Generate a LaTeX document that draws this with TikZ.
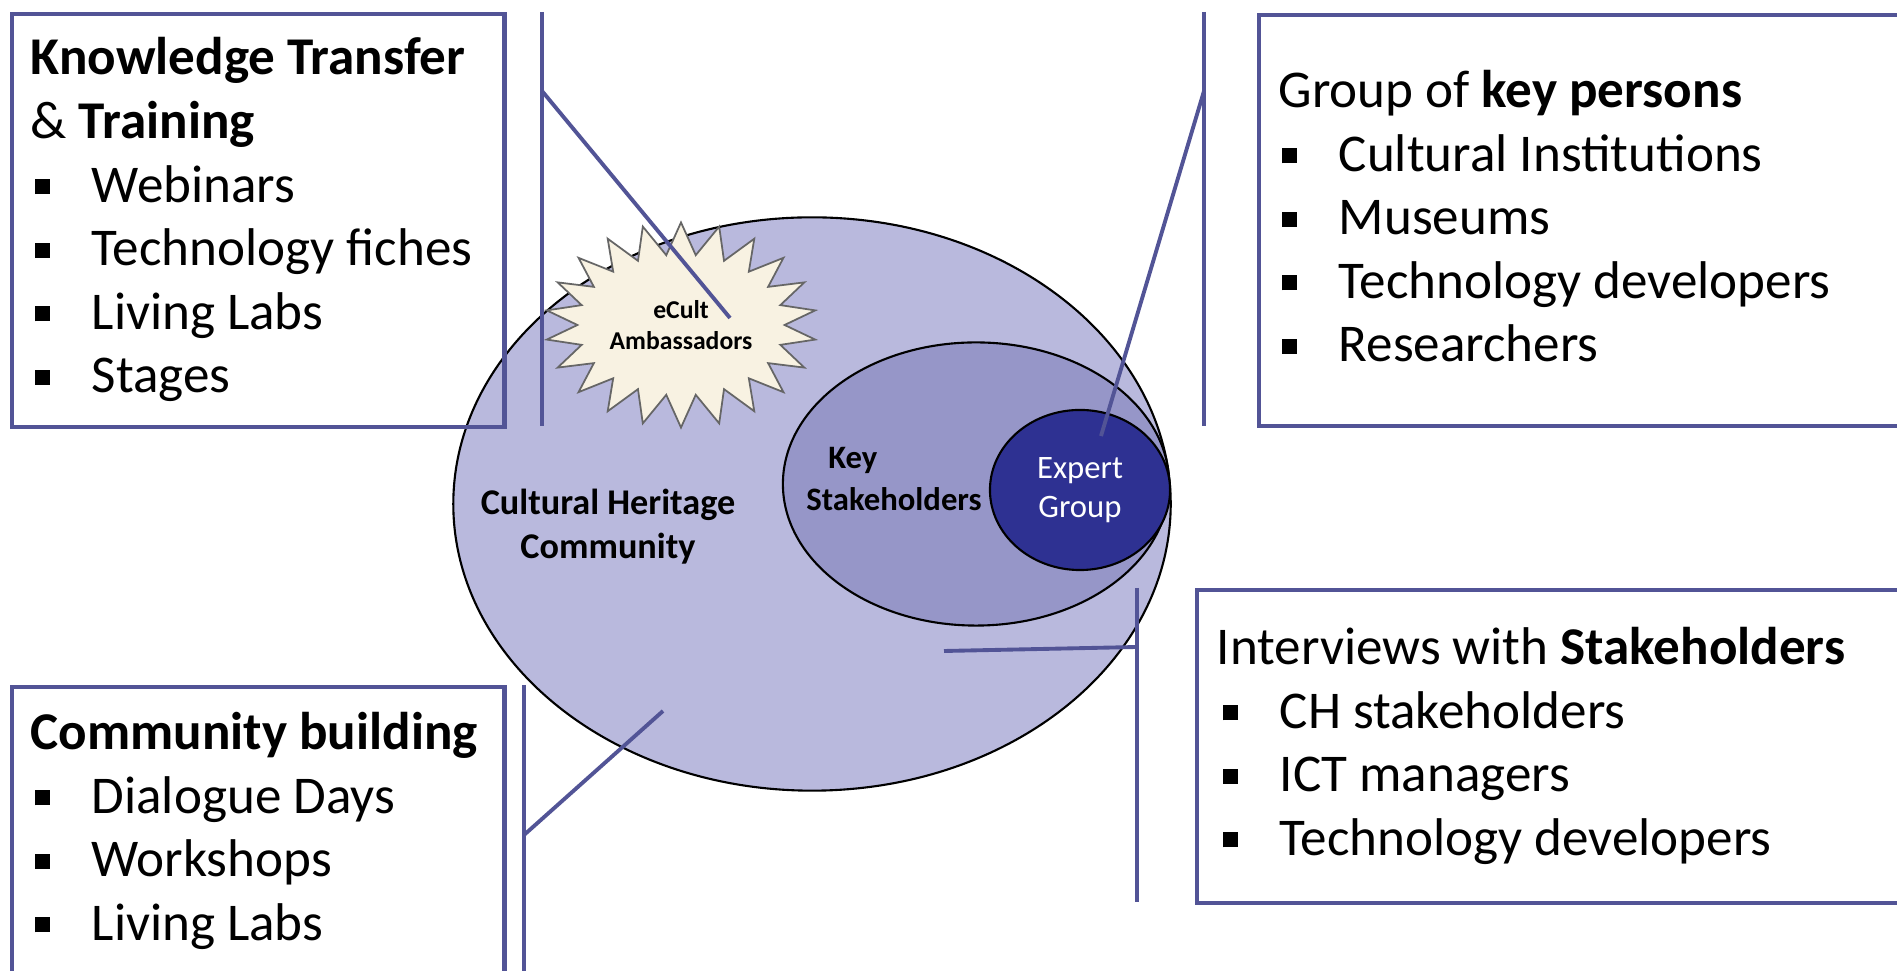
\documentclass[tikz,border=0pt]{standalone}
\usepackage{fontspec}
\setmainfont{Carlito}
\usetikzlibrary{shapes.geometric,shapes.symbols}
\definecolor{frame}{RGB}{82,84,150}
\definecolor{community}{RGB}{185,185,221}
\definecolor{keyholders}{RGB}{150,150,200}
\definecolor{experts}{RGB}{46,49,146}
\definecolor{ambassador}{RGB}{248,242,226}
\tikzset{%
    panel/.style={draw=frame, line width=1.2pt, anchor=north west, inner sep=0pt},
    lead/.style={draw=frame, line width=1.1pt},
    blob/.style={ellipse, draw=black, line width=0.6pt, inner sep=0pt},
    big/.style={font=\fontsize{15.1}{18}\selectfont, anchor=base west, inner sep=0pt},
    tag/.style={font=\fontsize{10.3}{12.5}\selectfont\bfseries, align=center, inner sep=0pt}
}
\newcommand{\sqbullet}{\makebox[0.57cm][l]{\rule[0.08cm]{0.15cm}{0.15cm}}}

\begin{document}
\begin{tikzpicture}[x=0.01cm, y=-0.01cm]
\useasboundingbox (0,0) rectangle (1897,971);
\clip (0,0) rectangle (1897,971);

% circles of the community
\node (CHC) [blob, fill=community, minimum width=7.17cm, minimum height=5.73cm] at (812,504) {};
\node (KS) [blob, fill=keyholders, minimum width=3.86cm, minimum height=2.83cm] at (976,484) {};
\node (EG) [blob, fill=experts, text=white, minimum width=1.80cm, minimum height=1.60cm,
    font=\fontsize{9.3}{11}\selectfont, align=center] at (1080,490) {Expert\\Group};
\node (EA) [starburst, starburst points=22, starburst point height=0.32cm, random starburst=0,
    draw=black!60, line width=0.5pt, fill=ambassador, minimum width=2.71cm, minimum height=2.05cm,
    font=\fontsize{7.3}{8.8}\selectfont\bfseries, align=center, inner sep=0pt] at (681,325) {eCult\\Ambassadors};

\node (CHCt) [tag] at (608,527) {Cultural Heritage\\Community};
\node (KSt) [tag, font=\fontsize{9.3}{11.9}\selectfont\bfseries, align=left] at (894,479) {\hspace{0.22cm}Key\\Stakeholders};

% boxes
\node (KT) [panel, minimum width=4.92cm, minimum height=4.13cm] at (10,12) {};
\node (GK) [panel, minimum width=7cm, minimum height=4.11cm] at (1257,13) {};
\node (IS) [panel, minimum width=8cm, minimum height=3.13cm] at (1195,588) {};
\node (CB) [panel, minimum width=4.92cm, minimum height=4cm] at (10,685) {};

% knowledge transfer
\node (KT0) [big] at (30,75) {\textbf{Knowledge Transfer}};
\node (KT1) [big] at (30,138.6) {\& \textbf{Training}};
\foreach \txt [count=\i] in {Webinars, Technology fiches, Living Labs, Stages}
    \node (KTi\i) [big] at (34,{138.6+63.6*\i}) {\sqbullet\txt};

% key persons
\node (GK0) [big] at (1278,108) {Group of \textbf{key persons}};
\foreach \txt [count=\i] in {Cultural Institutions, Museums, Technology developers, Researchers}
    \node (GKi\i) [big] at (1281,{108+63.5*\i}) {\sqbullet\txt};

% interviews
\node (IS0) [big] at (1216,665) {Interviews with \textbf{Stakeholders}};
\foreach \txt [count=\i] in {CH stakeholders, ICT managers, Technology developers}
    \node (ISi\i) [big] at (1222,{665+63.5*\i}) {\sqbullet\txt};

% community building
\node (CB0) [big] at (30,750) {\textbf{Community building}};
\foreach \txt [count=\i] in {Dialogue Days, Workshops, Living Labs}
    \node (CBi\i) [big] at (34,{750+63.5*\i}) {\sqbullet\txt};

% leads
\coordinate (KTtop) at (542,12);
\coordinate (KTbot) at (542,426);
\coordinate (KTknee) at (542,91);
\coordinate (KTend) at (730,318);
\coordinate (GKtop) at (1204,12);
\coordinate (GKbot) at (1204,426);
\coordinate (GKknee) at (1204,91);
\coordinate (GKend) at (1101,436);
\coordinate (IStop) at (1137,588);
\coordinate (ISbot) at (1137,902);
\coordinate (ISknee) at (1137,647);
\coordinate (ISend) at (944,651);
\coordinate (CBtop) at (524,685);
\coordinate (CBbot) at (524,980);
\coordinate (CBknee) at (524,835);
\coordinate (CBend) at (663,711);

\draw[lead] (KTtop) -- (KTbot);
\draw[lead] (KTknee) -- (KTend);
\draw[lead] (GKtop) -- (GKbot);
\draw[lead] (GKknee) -- (GKend);
\draw[lead] (IStop) -- (ISbot);
\draw[lead] (ISknee) -- (ISend);
\draw[lead] (CBtop) -- (CBbot);
\draw[lead] (CBknee) -- (CBend);
\end{tikzpicture}
\end{document}
